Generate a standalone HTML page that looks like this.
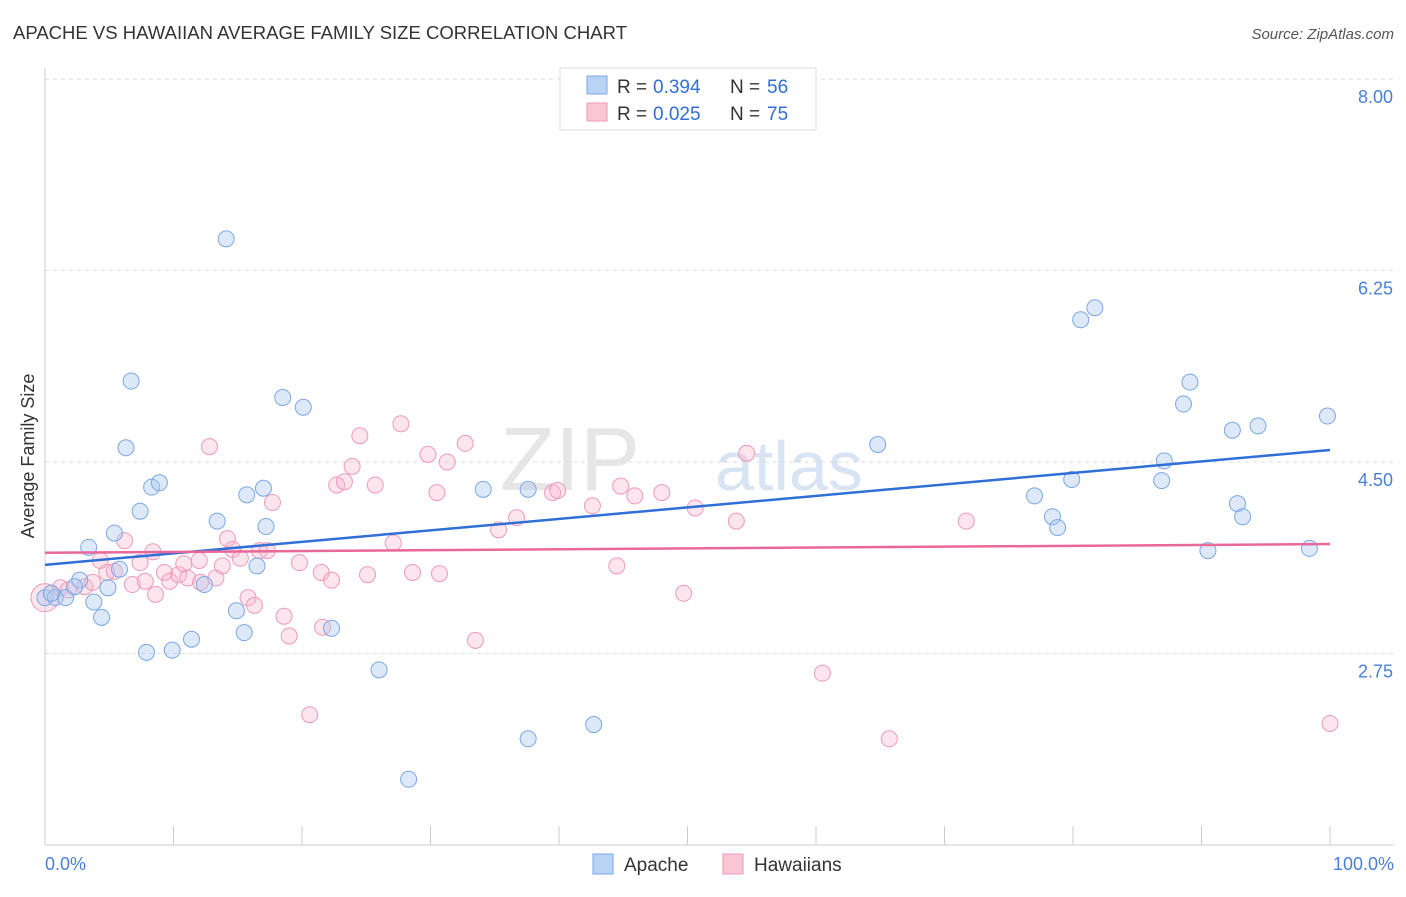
<!DOCTYPE html>
<html><head><meta charset="utf-8"><style>
body{margin:0;background:#fff;font-family:"Liberation Sans",sans-serif;}
svg text{font-family:"Liberation Sans",sans-serif;}
</style></head><body>
<svg width="1406" height="892">
<text x="13" y="39" font-size="18.5" fill="#333" textLength="614">APACHE VS HAWAIIAN AVERAGE FAMILY SIZE CORRELATION CHART</text>
<text x="1394" y="39" font-size="15" fill="#555" font-style="italic" text-anchor="end">Source: ZipAtlas.com</text>
<text x="640" y="490" font-size="90" fill="#e6e6e6" font-family="Liberation Serif" text-anchor="end">ZIP</text>
<text x="715" y="490" font-size="70" fill="#d8e4f3">atlas</text>
<g id="grid"></g>
<line x1="45" y1="68" x2="45" y2="845" stroke="#ccc"/>
<line x1="45" y1="845" x2="1394" y2="845" stroke="#ccc"/>
<g id="xticks"></g>
<text x="45" y="870" font-size="18" fill="#4a7fd6">0.0%</text>
<text x="1394" y="870" font-size="18" fill="#4a7fd6" text-anchor="end">100.0%</text>
<text transform="translate(34,456) rotate(-90)" font-size="18" fill="#333" text-anchor="middle">Average Family Size</text>
<g id="pts"></g>
<g>
<rect x="560" y="68" width="256" height="62" fill="#fff" stroke="#ddd"/>
<rect x="587" y="76" width="20" height="18" fill="#b9d3f5" stroke="#7aa7e6"/>
<rect x="587" y="103" width="20" height="18" fill="#fac6d6" stroke="#ef9ab5"/>
<text x="617" y="93" font-size="19" fill="#333">R =</text>
<text x="653" y="93" font-size="19" fill="#2f6fd6">0.394</text>
<text x="730" y="93" font-size="19" fill="#333">N =</text>
<text x="767" y="93" font-size="19" fill="#2f6fd6">56</text>
<text x="617" y="120" font-size="19" fill="#333">R =</text>
<text x="653" y="120" font-size="19" fill="#2f6fd6">0.025</text>
<text x="730" y="120" font-size="19" fill="#333">N =</text>
<text x="767" y="120" font-size="19" fill="#2f6fd6">75</text>
</g>
<g>
<rect x="593" y="854" width="20" height="20" fill="#b9d3f5" stroke="#7aa7e6"/>
<text x="624" y="871" font-size="19" fill="#333">Apache</text>
<rect x="723" y="854" width="20" height="20" fill="#fac6d6" stroke="#ef9ab5"/>
<text x="754" y="871" font-size="19" fill="#333">Hawaiians</text>
</g>
</svg>
<script>
const yTicks=[2.75,4.5,6.25,8.0];
const yTickLabels=["2.75","4.50","6.25","8.00"];
const apacheX=[0,0.8,1.6,2.7,3.4,3.8,4.4,4.9,5.4,5.8,6.3,6.7,7.4,7.9,8.3,8.9,9.9,11.4,12.4,13.4,14.1,14.9,15.5,15.7,16.5,17.0,17.2,18.5,20.1,22.3,26.0,28.3,34.1,37.6,37.6,42.7,64.8,77.0,78.4,78.8,79.9,80.6,81.7,86.9,87.1,88.6,89.1,90.5,92.4,92.8,93.2,94.4,98.4,99.8,0.5,2.3];
const apacheY=[3.26,3.26,3.26,3.42,3.72,3.22,3.08,3.35,3.85,3.52,4.63,5.24,4.05,2.76,4.27,4.31,2.78,2.88,3.38,3.96,6.54,3.14,2.94,4.20,3.55,4.26,3.91,5.09,5.00,2.98,2.60,1.60,4.25,4.25,1.97,2.10,4.66,4.19,4.00,3.90,4.34,5.80,5.91,4.33,4.51,5.03,5.23,3.69,4.79,4.12,4.00,4.83,3.71,4.92,3.30,3.36];
const hawX=[0,1.2,1.8,3.1,3.7,4.3,4.8,5.4,6.2,6.8,7.4,7.8,8.4,8.6,9.3,9.7,10.4,10.8,11.1,12.0,12.1,12.8,13.3,13.8,14.2,14.6,15.2,15.8,16.3,16.7,17.3,17.7,18.6,19.0,19.8,20.6,21.5,21.6,22.3,22.7,23.3,23.9,24.5,25.1,25.7,27.1,27.7,28.6,29.8,30.5,30.7,31.3,32.7,33.5,35.3,36.7,39.5,39.9,42.6,44.5,44.8,45.9,48.0,49.7,50.6,53.8,54.6,60.5,65.7,71.7,100];
const hawY=[3.26,3.35,3.33,3.36,3.40,3.60,3.49,3.50,3.78,3.38,3.58,3.41,3.68,3.29,3.49,3.41,3.47,3.57,3.44,3.60,3.40,4.64,3.44,3.55,3.80,3.70,3.62,3.26,3.19,3.69,3.69,4.13,3.09,2.91,3.58,2.19,3.49,2.99,3.42,4.29,4.32,4.46,4.74,3.47,4.29,3.76,4.85,3.49,4.57,4.22,3.48,4.50,4.67,2.87,3.88,3.99,4.22,4.24,4.10,3.55,4.28,4.19,4.22,3.30,4.08,3.96,4.58,2.57,1.97,3.96,2.11];
const apacheTrend=[3.56,4.61];
const hawTrend=[3.67,3.75];
const NS="http://www.w3.org/2000/svg";
function xS(p){return 45+p*12.85;}
function yS(v){return 462-(v-4.5)*109.4;}
function mk(t,a,parent){const e=document.createElementNS(NS,t);for(const k in a)e.setAttribute(k,a[k]);parent.appendChild(e);return e;}
const grid=document.getElementById('grid');
yTicks.forEach((v,i)=>{
 const l=mk('line',{x1:45,x2:1394,y1:yS(v),y2:yS(v),stroke:'#ddd','stroke-dasharray':'4,4'},grid);
 
 
 const t=mk('text',{x:1393,y:yS(v)+24,'font-size':18,fill:'#4a7fd6','text-anchor':'end'},grid);
 t.textContent=yTickLabels[i];
 
 
});
const xt=document.getElementById('xticks');
for(let i=0;i<=10;i++){
 const l=mk('line',{x1:xS(i*10),x2:xS(i*10),y1:826,y2:845,stroke:'#ccc'},xt);
 
 
}
const pts=document.getElementById('pts');
hawX.forEach((x,i)=>{
 const c=mk('circle',{cx:xS(x),cy:yS(hawY[i]),r:i==0?14:8,fill:'rgba(250,180,205,0.35)',stroke:'#ef9ab5','stroke-width':1},pts);
 
 
});
apacheX.forEach((x,i)=>{
 const c=mk('circle',{cx:xS(x),cy:yS(apacheY[i]),r:8,fill:'rgba(170,200,240,0.4)',stroke:'#7aa7e6','stroke-width':1},pts);
 
 
});
const t1=mk('line',{x1:xS(0),x2:xS(100),y1:yS(apacheTrend[0]),y2:yS(apacheTrend[1]),stroke:'#2f6fd6','stroke-width':2.5},pts);


const t2=mk('line',{x1:xS(0),x2:xS(100),y1:yS(hawTrend[0]),y2:yS(hawTrend[1]),stroke:'#e8689a','stroke-width':2.5},pts);


</script>
</body></html>
